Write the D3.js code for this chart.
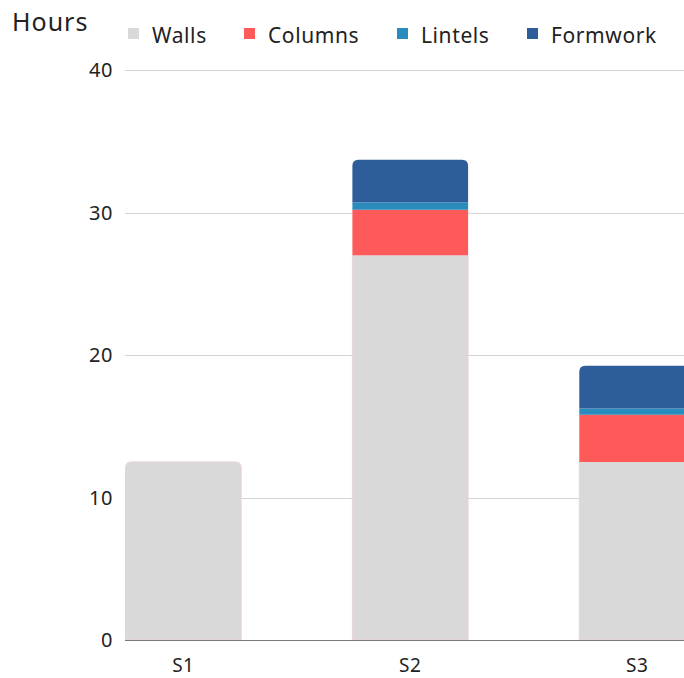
<!DOCTYPE html>
<html>
<head>
<meta charset="utf-8">
<script src="https://cdn.jsdelivr.net/npm/d3@7"></script>
<style>
  body { margin: 0; background: #fff; }
  text { font-family: "Noto Sans", "Open Sans", sans-serif; fill: #222; }
</style>
</head>
<body>
<div id="chart"></div>
<script>
const categories = ["S1", "S2", "S3"];
const seriesNames = ["Walls", "Columns", "Lintels", "Formwork"];
const walls = [12.5, 27.0, 12.5];
const columns = [0, 3.2, 3.3];
const lintels = [0, 0.5, 0.45];
const formwork = [0, 3.0, 3.0];
const yTicks = [0, 10, 20, 30, 40];
const colors = ["#d9d9d9", "#ff5a5a", "#2a8bbd", "#2d5e99"];

const width = 684, height = 678;
const margin = { left: 125, top: 70, bottom: 38 };
const plotBottom = height - margin.bottom;

const svg = d3.select("#chart").append("svg")
  .attr("width", width)
  .attr("height", height);

// data table for the stack
const table = categories.map((c, i) => ({
  cat: c, Walls: walls[i], Columns: columns[i], Lintels: lintels[i], Formwork: formwork[i]
}));
const stacked = d3.stack().keys(seriesNames)(table);

const x = d3.scaleBand()
  .domain(categories)
  .range([margin.left + 0.5, 695])
  .paddingInner(0.49)
  .paddingOuter(0);

const y = d3.scaleLinear().domain([0, 40]).range([plotBottom, margin.top]);

// grid
svg.append("g").selectAll("line")
  .data(yTicks.filter(d => d > 0))
  .enter().append("line")
  .attr("x1", margin.left).attr("x2", width)
  .attr("y1", d => Math.round(y(d)) + 0.5).attr("y2", d => Math.round(y(d)) + 0.5)
  .attr("stroke", "#d4d4d4").attr("stroke-width", 1);

// y labels
svg.append("g").selectAll("text")
  .data(yTicks)
  .enter().append("text")
  .attr("x", 113).attr("y", d => y(d))
  .attr("dy", "0.35em")
  .attr("text-anchor", "end")
  .style("font-size", "20px")
  .style("letter-spacing", "0.5px")
  .text(d => d);

// top segment per category gets rounded corners
function topKey(i) {
  let k = 0;
  stacked.forEach((s, j) => { if (s[i][1] - s[i][0] > 0) k = j; });
  return k;
}

function segPath(x0, w, yTop, yBot, r) {
  r = Math.min(r, (yBot - yTop));
  return "M" + x0 + "," + yBot +
    "L" + x0 + "," + (yTop + r) +
    "Q" + x0 + "," + yTop + " " + (x0 + r) + "," + yTop +
    "L" + (x0 + w - r) + "," + yTop +
    "Q" + (x0 + w) + "," + yTop + " " + (x0 + w) + "," + (yTop + r) +
    "L" + (x0 + w) + "," + yBot + "Z";
}

const layers = svg.append("g").selectAll("g")
  .data(stacked)
  .enter().append("g")
  .attr("fill", (d, j) => colors[j]);

layers.selectAll("path")
  .data((s, j) => s.map((d, i) => ({ d: d, i: i, j: j })).filter(o => o.d[1] - o.d[0] > 0))
  .enter().append("path")
  .attr("d", o => {
    const x0 = x(categories[o.i]);
    const r = o.j === topKey(o.i) ? 6 : 0;
    return segPath(x0, x.bandwidth(), y(o.d[1]), y(o.d[0]), r);
  })
  .attr("stroke", o => o.j === 0 ? "#ecd3d7" : "none")
  .attr("stroke-width", 1);

// baseline
svg.append("line")
  .attr("x1", margin.left).attr("x2", width)
  .attr("y1", plotBottom + 0.5).attr("y2", plotBottom + 0.5)
  .attr("stroke", "#7a7a7a").attr("stroke-width", 1);

// x labels
svg.append("g").selectAll("text")
  .data(categories)
  .enter().append("text")
  .attr("x", d => x(d) + x.bandwidth() / 2)
  .attr("y", 672)
  .attr("text-anchor", "middle")
  .style("font-size", "19px")
  .style("letter-spacing", "0.5px")
  .text(d => d);

// axis title
svg.append("text")
  .attr("x", 12).attr("y", 31)
  .style("font-size", "25px")
  .style("letter-spacing", "1px")
  .text("Hours");

// legend
const legendX = [128, 244, 397, 527];
const legend = svg.append("g").selectAll("g")
  .data(seriesNames)
  .enter().append("g")
  .attr("transform", (d, i) => "translate(" + legendX[i] + ",28)");
legend.append("rect")
  .attr("width", 11).attr("height", 11)
  .attr("fill", (d, i) => colors[i]);
legend.append("text")
  .attr("x", 24).attr("y", 7.5)
  .attr("dy", "0.35em")
  .style("font-size", "21px")
  .style("letter-spacing", "0.6px")
  .text(d => d);
</script>
</body>
</html>
